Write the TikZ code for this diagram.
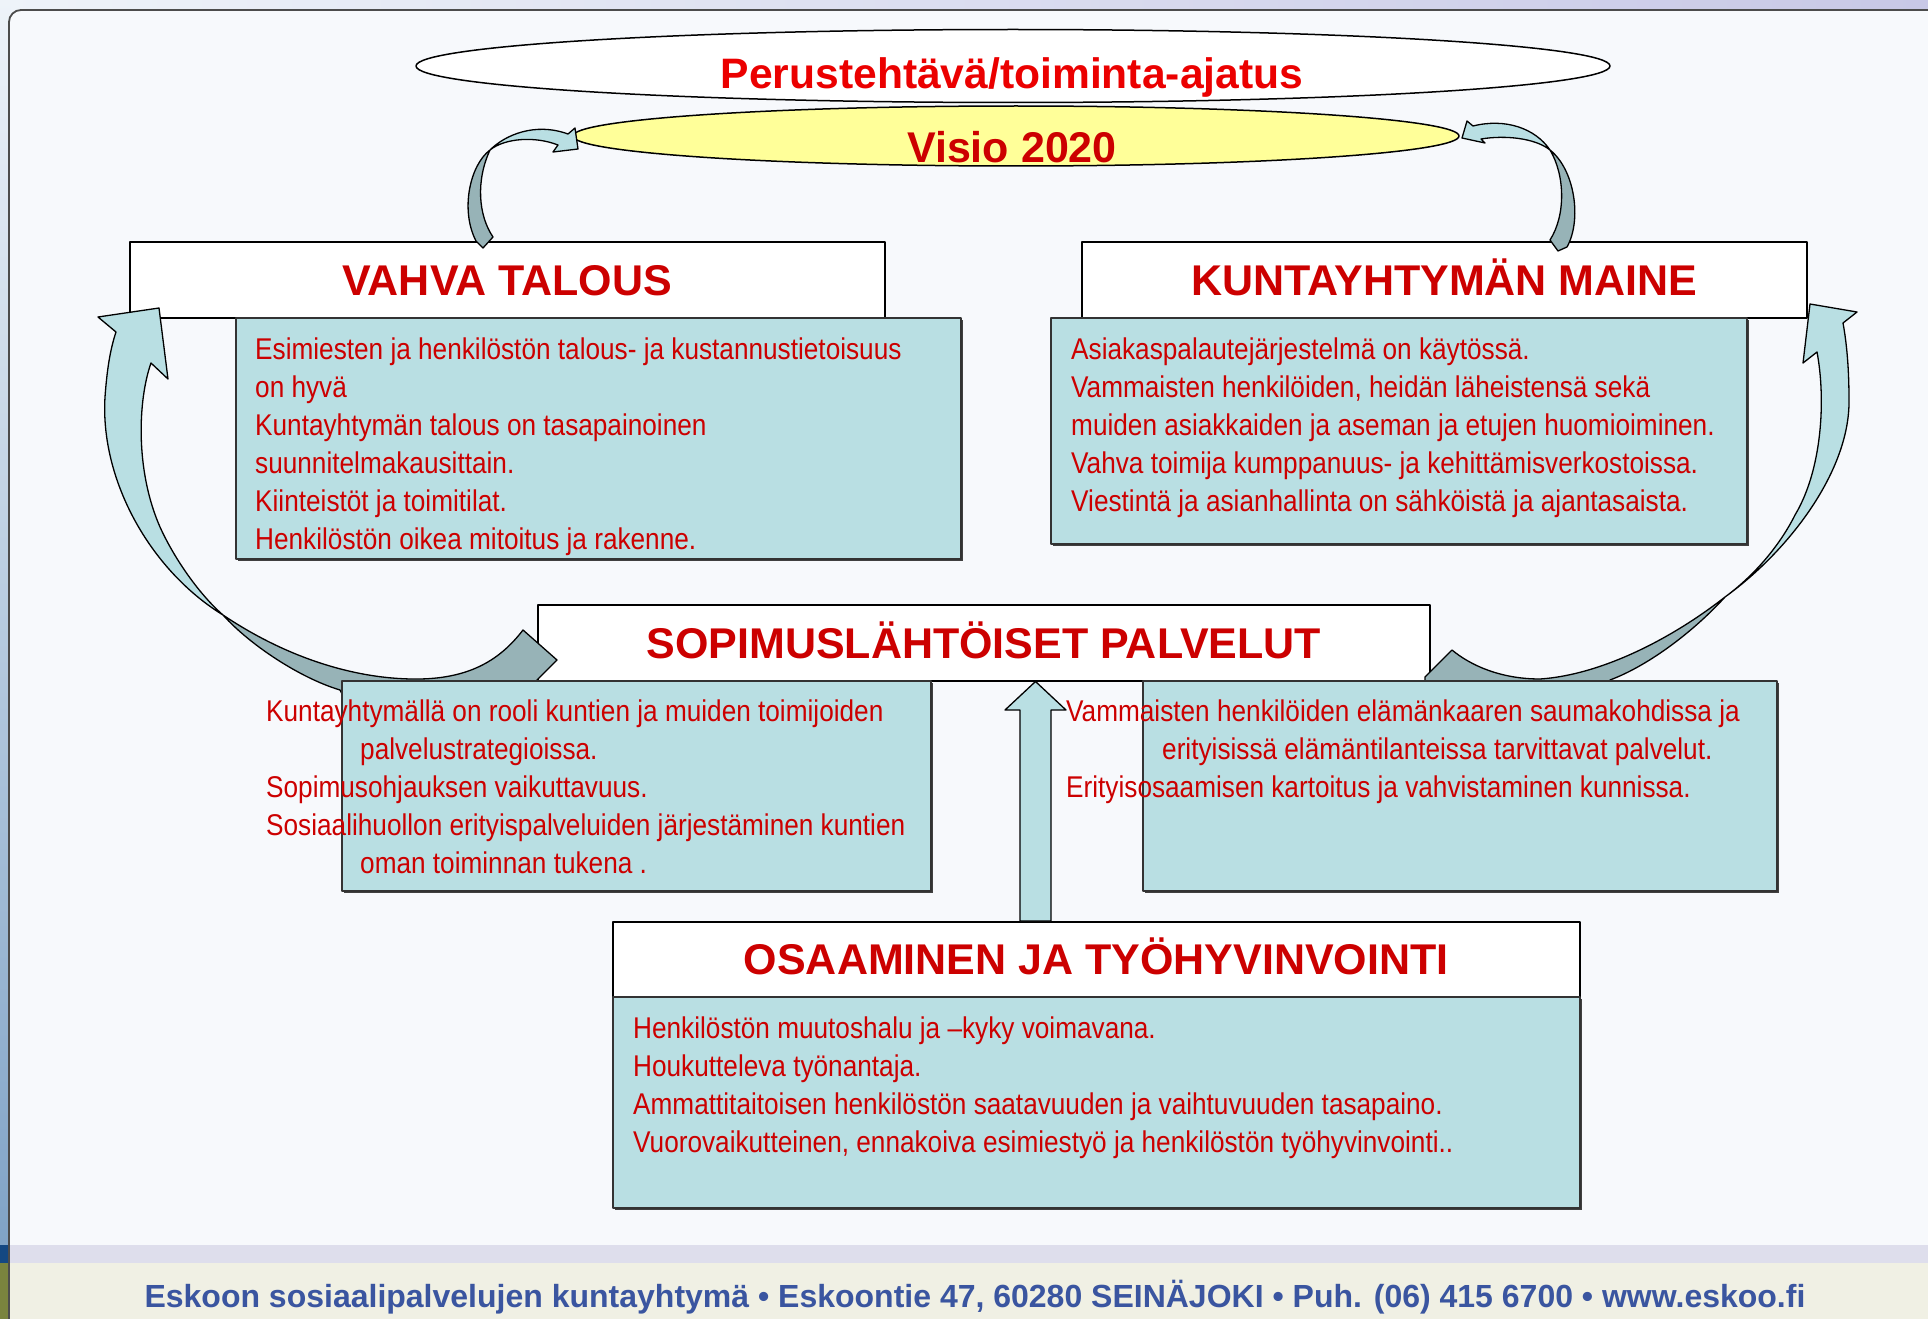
\documentclass[tikz,border=0pt]{standalone}
\usepackage{fontspec}
\setmainfont{Liberation Sans}
\newfontfamily\narrowfont[FakeStretch=0.873]{Liberation Sans}
\usetikzlibrary{shapes.geometric,shadows}

\definecolor{boxTeal}{RGB}{185,223,227}
\definecolor{arrowDark}{RGB}{151,179,183}
\definecolor{visioYellow}{RGB}{255,255,153}
\definecolor{titleRed}{RGB}{204,0,0}
\definecolor{brightRed}{RGB}{235,0,0}
\definecolor{footBlue}{RGB}{58,85,160}
\definecolor{pageTint}{RGB}{247,249,252}
\definecolor{stripTop}{RGB}{238,243,249}
\definecolor{stripLow}{RGB}{128,163,198}
\definecolor{stripBand}{RGB}{20,72,130}
\definecolor{stripOlive}{RGB}{122,132,62}
\definecolor{footLavender}{RGB}{222,222,236}
\definecolor{footBeige}{RGB}{240,240,228}
\definecolor{topLavender}{RGB}{200,200,230}

\def\lineSkip{38}

\tikzset{
  headbox/.style={draw=black, fill=white, line width=1.5pt, anchor=north west,
    inner sep=0pt, text height=31pt, text depth=0pt, text=titleRed,
    font=\fontsize{43}{43}\selectfont\bfseries},
  bodybox/.style={draw=black!80, fill=boxTeal, line width=1.5pt, anchor=north west,
    inner sep=0pt, drop shadow={shadow xshift=2pt, shadow yshift=-2pt, fill=black!75, opacity=1}},
  bodytext/.style={anchor=base west, inner sep=0pt, text=titleRed,
    font=\narrowfont\fontsize{30}{30}\selectfont},
  lightarrow/.style={fill=boxTeal, draw=black, line width=1.3pt},
  darkarrow/.style={fill=arrowDark, draw=black, line width=1.3pt}
}

\begin{document}
\begin{tikzpicture}[x=1pt, y=-1pt, line join=round]
  \useasboundingbox (0,0) rectangle (1928,1319);
  \clip (0,0) rectangle (1928,1319);

  % page background and frame
  \fill[left color=stripTop, right color=topLavender] (0,0) rectangle (1928,1319);
  \fill[top color=stripTop, bottom color=stripLow] (0,0) rectangle (10,1245);
  \fill[stripBand] (0,1245) rectangle (10,1263);
  \fill[stripOlive] (0,1263) rectangle (10,1319);
  \fill[pageTint, rounded corners=12pt] (9,10) rectangle (1960,1340);
  \fill[footLavender] (9,1245) rectangle (1928,1263);
  \fill[footBeige] (9,1263) rectangle (1928,1319);
  \draw[gray!60!black, line width=1.8pt, rounded corners=12pt] (9,10) rectangle (1960,1340);

  % mission and vision
  \node[ellipse, draw, line width=1.5pt, fill=white, inner sep=0pt,
        minimum width=1194pt, minimum height=73pt] (mission) at (1013,66) {};
  \node[ellipse, draw, line width=1.5pt, fill=visioYellow, inner sep=0pt,
        minimum width=886pt, minimum height=60pt] (vision) at (1016,136) {};
  \node[anchor=base, inner sep=0pt, text=brightRed, font=\fontsize{42.6}{43}\selectfont\bfseries]
        (missionText) at (1012,89) {Perustehtävä/toiminta-ajatus};
  \node[anchor=base, inner sep=0pt, text=titleRed, font=\fontsize{43}{43}\selectfont\bfseries]
        (visionText) at (1012,163) {Visio 2020};

  % headings
  \node[headbox, minimum width=755pt, minimum height=76pt] (talousHead) at (129,241) {VAHVA TALOUS};
  \node[headbox, minimum width=725pt, minimum height=76pt] (maineHead) at (1081,241) {KUNTAYHTYMÄN MAINE};
  \node[headbox, minimum width=892pt, minimum height=76pt] (sopHead) at (537,604) {SOPIMUSLÄHTÖISET PALVELUT};
  \node[headbox, minimum width=967pt, minimum height=75pt] (osaHead) at (612,921) {OSAAMINEN JA TYÖHYVINVOINTI};

  % small arrows up to the vision
  \draw[darkarrow] (490,150) .. controls (470,165) and (460,210) .. (476,241) -- (483,248)
    -- (493,237) .. controls (478,215) and (476,180) .. (490,150);
  \draw[lightarrow] (490,150) .. controls (505,135) and (535,122) .. (568,134) -- (575,128)
    -- (578,149) -- (553,152) -- (558,145) .. controls (535,136) and (505,138) .. (490,150);
  \draw[darkarrow] (1550,150) .. controls (1575,170) and (1582,220) .. (1567,247) -- (1558,251)
    -- (1550,240) .. controls (1566,215) and (1565,175) .. (1550,150);
  \draw[lightarrow] (1550,150) .. controls (1535,128) and (1505,118) .. (1473,126) -- (1467,121)
    -- (1462,138) -- (1485,143) -- (1481,139) .. controls (1505,135) and (1535,138) .. (1550,150);

  % big arrows from the services
  \draw[darkarrow] (223,615) .. controls (290,660) and (360,680) .. (420,679)
    .. controls (470,678) and (500,660) .. (523,630) -- (557,660) -- (537,680) -- (537,700)
    -- (345,700) -- (340,690) .. controls (300,678) and (250,645) .. (223,615);
  \draw[lightarrow] (223,615) .. controls (150,570) and (100,480) .. (105,397)
    .. controls (107,370) and (110,350) .. (116,332) -- (98,317) -- (159,308) -- (168,379)
    -- (151,363) .. controls (138,400) and (135,470) .. (160,527)
    .. controls (175,560) and (200,595) .. (223,615);
  \draw[darkarrow] (1725,597) .. controls (1670,640) and (1600,675) .. (1540,679)
    .. controls (1500,679) and (1470,665) .. (1452,650) -- (1425,677) -- (1425,700)
    -- (1610,700) -- (1610,680) .. controls (1650,665) and (1695,630) .. (1725,597);
  \draw[lightarrow] (1725,597) .. controls (1790,550) and (1850,470) .. (1849,400)
    .. controls (1849,370) and (1847,345) .. (1843,323) -- (1857,312) -- (1810,304) -- (1803,363)
    -- (1817,352) .. controls (1826,400) and (1822,470) .. (1795,515)
    .. controls (1780,545) and (1755,575) .. (1725,597);

  % text boxes
  \node[bodybox, minimum width=725pt, minimum height=241pt] (talousBox) at (235,317) {};
  \node[bodybox, minimum width=696pt, minimum height=226pt] (maineBox) at (1050,317) {};
  \node[bodybox, minimum width=589pt, minimum height=210pt] (sopLeftBox) at (341,680) {};
  \node[bodybox, minimum width=634pt, minimum height=210pt] (sopRightBox) at (1142,680) {};
  \node[bodybox, minimum width=967pt, minimum height=211pt] (osaBox) at (612,996) {};

  \foreach \t [count=\i] in {Esimiesten ja henkilöstön talous- ja kustannustietoisuus, on hyvä,
      Kuntayhtymän talous on tasapainoinen, suunnitelmakausittain.,
      Kiinteistöt ja toimitilat., Henkilöstön oikea mitoitus ja rakenne.}
    \node[bodytext] (talous-\i) at (255,321+\lineSkip*\i) {\t};
  \foreach \t [count=\i] in {Asiakaspalautejärjestelmä on käytössä.,
      {Vammaisten henkilöiden, heidän läheistensä sekä},
      muiden asiakkaiden ja aseman ja etujen huomioiminen.,
      Vahva toimija kumppanuus- ja kehittämisverkostoissa.,
      Viestintä ja asianhallinta on sähköistä ja ajantasaista.}
    \node[bodytext] (maine-\i) at (1071,321+\lineSkip*\i) {\t};
  \foreach \dx/\t [count=\i] in {0/Kuntayhtymällä on rooli kuntien ja muiden toimijoiden,
      94/palvelustrategioissa., 0/Sopimusohjauksen vaikuttavuus.,
      0/Sosiaalihuollon erityispalveluiden järjestäminen kuntien, 94/oman toiminnan tukena .}
    \node[bodytext] (sopLeft-\i) at (266+\dx,683+\lineSkip*\i) {\t};
  \foreach \dx/\t [count=\i] in {0/Vammaisten henkilöiden elämänkaaren saumakohdissa ja,
      96/erityisissä elämäntilanteissa tarvittavat palvelut.,
      0/Erityisosaamisen kartoitus ja vahvistaminen kunnissa.}
    \node[bodytext] (sopRight-\i) at (1066+\dx,683+\lineSkip*\i) {\t};
  \foreach \t [count=\i] in {Henkilöstön muutoshalu ja –kyky voimavana., Houkutteleva työnantaja.,
      Ammattitaitoisen henkilöstön saatavuuden ja vaihtuvuuden tasapaino.,
      {Vuorovaikutteinen, ennakoiva esimiestyö ja henkilöstön työhyvinvointi..}}
    \node[bodytext] (osa-\i) at (633,1000+\lineSkip*\i) {\t};

  % competence lifts the services
  \draw[lightarrow] (1020,0 |- osaHead.north) -- (1020,710) -- (1005,710) -- (1035.5,0 |- sopHead.south)
    -- (1066,710) -- (1051,710) -- (1051,0 |- osaHead.north) -- cycle;

  \node[anchor=base, inner sep=0pt, text=footBlue, font=\fontsize{32}{32}\selectfont\bfseries]
        (footer) at (975,1307) {Eskoon sosiaalipalvelujen kuntayhtymä • Eskoontie 47, 60280 SEINÄJOKI • Puh. (06) 415 6700 • www.eskoo.fi};
\end{tikzpicture}
\end{document}
